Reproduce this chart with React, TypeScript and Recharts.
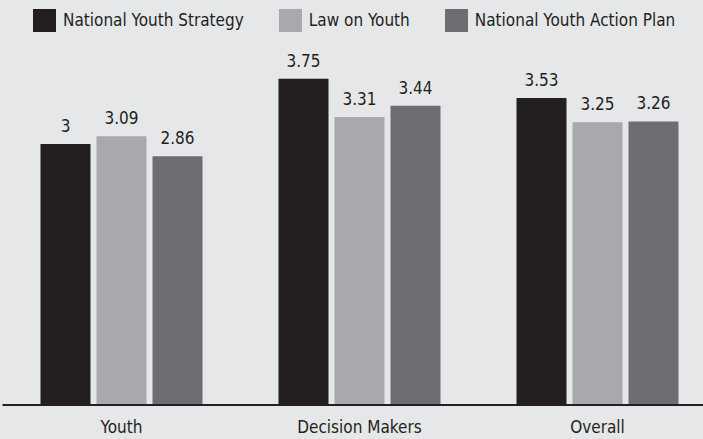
import React from "react";
import { BarChart, Bar, XAxis, YAxis, Legend, LabelList } from "recharts";

const categories = ["Youth", "Decision Makers", "Overall"];
const nationalYouthStrategy = [3, 3.75, 3.53];
const lawOnYouth = [3.09, 3.31, 3.25];
const nationalYouthActionPlan = [2.86, 3.44, 3.26];

const seriesNames = ["National Youth Strategy", "Law on Youth", "National Youth Action Plan"];
const seriesKeys = ["nys", "loy", "nyap"];
const seriesColors = ["#231f20", "#a7a9ac", "#6d6e71"];

const data = categories.map((c, i) => ({
  name: c,
  nys: nationalYouthStrategy[i],
  loy: lawOnYouth[i],
  nyap: nationalYouthActionPlan[i],
}));

const FONT = "'DejaVu Sans Condensed', 'DejaVu Sans', sans-serif";
const TEXT = "#231f20";

const LegendContent = () => (
  <div
    style={{
      display: "flex",
      alignItems: "center",
      height: 40,
      paddingLeft: 33,
      gap: 35,
      fontFamily: FONT,
      fontSize: 17,
      color: TEXT,
      boxSizing: "border-box",
    }}
  >
    {seriesNames.map((n, i) => (
      <div key={n} style={{ display: "flex", alignItems: "center", gap: 7 }}>
        <div style={{ width: 23, height: 23, background: seriesColors[i] }} />
        <span style={{ whiteSpace: "nowrap" }}>{n}</span>
      </div>
    ))}
  </div>
);

export default function App() {
  return (
    <div
      style={{
        position: "fixed",
        left: 0,
        top: 0,
        width: 703,
        height: 439,
        overflow: "hidden",
        background: "#e6e7e8",
      }}
    >
      <BarChart
        width={720}
        height={439}
        data={data}
        margin={{ top: 17, right: 3.5, bottom: 0, left: 2.5 }}
        barSize={50}
        barGap={6}
      >
        <Legend
          verticalAlign="top"
          content={<LegendContent />}
          wrapperStyle={{ top: 0, left: 0, width: 703 }}
        />
        <XAxis
          dataKey="name"
          height={34}
          tickLine={false}
          axisLine={{ stroke: TEXT, strokeWidth: 2 }}
          tick={{ fill: TEXT, fontSize: 17, fontFamily: FONT }}
          tickMargin={10}
        />
        <YAxis hide domain={[0, 4]} />
        {seriesKeys.map((k, i) => (
          <Bar key={k} dataKey={k} name={seriesNames[i]} fill={seriesColors[i]} isAnimationActive={false}>
            <LabelList
              dataKey={k}
              position="top"
              offset={12}
              style={{ fill: TEXT, fontSize: 17, fontFamily: FONT }}
            />
          </Bar>
        ))}
      </BarChart>
    </div>
  );
}
